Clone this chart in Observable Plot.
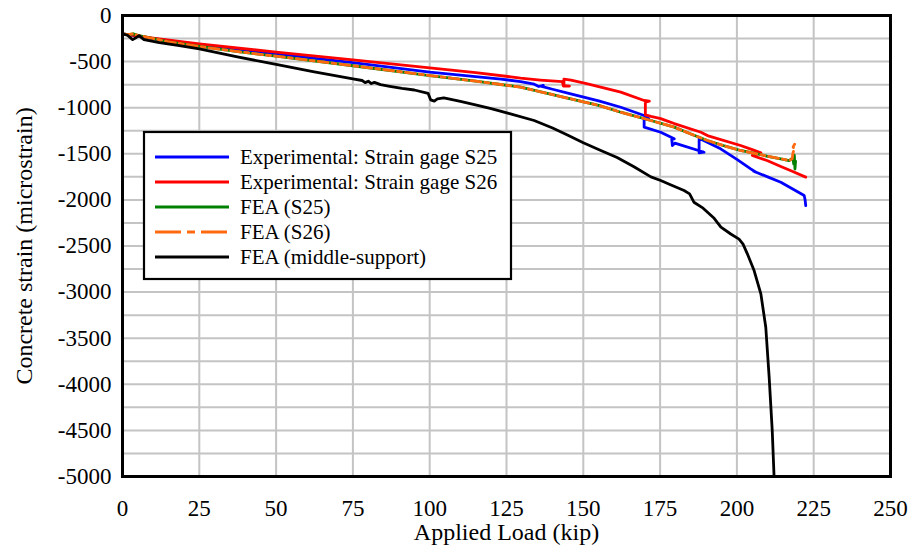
<!DOCTYPE html>
<html><head><meta charset="utf-8">
<script src="https://cdn.jsdelivr.net/npm/d3@7"></script>
<script src="https://cdn.jsdelivr.net/npm/@observablehq/plot@0.6"></script>
<style>body{margin:0;background:#fff;} svg{display:block} svg text{font-family:"Liberation Serif","Times New Roman",serif !important;}</style>
</head><body><div id="chart"></div>
<script>
// Applied load (kip), concrete strain (microstrain)
const expS25 = [[0,-200],[10,-250],[25,-315],[50,-416],[75,-512],[100,-615],[123.2,-690],[129.6,-716],[134,-745],[135.5,-770],[137,-758],[136.1,-767],[140,-800],[145.9,-850],[155,-925],[162.2,-995],[169.8,-1085],[171.3,-1120],[169.8,-1125],[169.8,-1211],[175.2,-1266],[179.6,-1338],[178.8,-1345],[179,-1410],[179.8,-1385],[189.3,-1483],[187.7,-1490],[187.7,-1340],[188.5,-1345],[194.7,-1446],[200,-1560],[204.5,-1663],[206.2,-1700],[205.5,-1690],[210,-1750],[214.3,-1808],[221.9,-1952],[222.2,-2000],[222.4,-2061]];
const expS26 = [[0,-200],[10,-245],[25,-307],[50,-398],[75,-482],[100,-567],[115,-620],[126.4,-665],[129.6,-680],[136,-700],[143.2,-718],[143.5,-765],[145.5,-765],[143.7,-760],[143.7,-690],[146,-700],[151.4,-741],[162.2,-831],[169.8,-922],[171.5,-930],[170.2,-940],[170.2,-1078],[172,-1095],[175.2,-1118],[177.4,-1145],[179.6,-1172],[188.3,-1266],[190.4,-1302],[201.2,-1410],[205,-1455],[207.8,-1490],[205,-1518],[210,-1575],[214.3,-1638],[218,-1690],[222.4,-1753]];
const feaS25 = [[0,-200],[2,-208],[3.5,-198],[5,-215],[7,-228],[15,-285],[25,-336],[37,-390],[50,-441],[75,-545],[100,-651],[115,-712],[129.6,-777],[145.9,-904],[155,-975],[162.2,-1049],[172,-1139],[179.6,-1211],[185,-1285],[190.4,-1356],[196,-1415],[201.2,-1464],[206.6,-1500],[210,-1527],[214.3,-1555],[217,-1573],[218.2,-1545],[218.5,-1610],[218.7,-1515],[218.9,-1665],[219.1,-1580]];
const feaS26 = [[0,-200],[2,-208],[3.5,-198],[5,-215],[7,-228],[15,-285],[25,-336],[37,-390],[50,-441],[75,-545],[100,-651],[115,-712],[129.6,-777],[145.9,-904],[155,-975],[162.2,-1049],[172,-1139],[179.6,-1211],[185,-1285],[190.4,-1356],[196,-1415],[201.2,-1464],[206.6,-1500],[210,-1527],[214.3,-1555],[217,-1573],[218,-1555],[218.2,-1500],[218.6,-1450],[218.3,-1425],[218.8,-1395]];
const feaMid = [[0,-200],[1.5,-212],[3.3,-262],[4.5,-238],[5.4,-218],[7,-262],[12,-295],[18,-325],[25,-362],[37,-445],[50,-531],[62,-610],[75,-687],[78,-705],[79,-728],[80,-712],[81,-738],[82,-725],[84,-750],[87,-768],[91,-790],[95,-808],[99.5,-845],[100.3,-915],[101.5,-928],[102.5,-905],[104.6,-893],[110,-932],[115.6,-976],[120,-1010],[126,-1065],[134,-1139],[140,-1220],[145,-1300],[150,-1380],[155.7,-1464],[161,-1540],[166.5,-1640],[172,-1750],[175.2,-1790],[178,-1830],[182.8,-1898],[184.6,-1935],[186,-2025],[189,-2090],[192.6,-2200],[194.8,-2296],[198,-2370],[200.7,-2425],[202,-2480],[203.4,-2585],[205.6,-2766],[207.8,-3019],[209.4,-3381],[210.5,-3923],[211.5,-4500],[212.1,-5000]];

const seriesNames = ["Experimental: Strain gage S25","Experimental: Strain gage S26","FEA (S25)","FEA (S26)","FEA (middle-support)"];
const seriesColors = ["#0000ff","#ff0000","#008000","#ff6a10","#000000"];
const seriesDash = [null,null,null,"10,4,4,4",null];
const seriesData = [expS25, expS26, feaS25, feaS26, feaMid];

const xTicks = [0,25,50,75,100,125,150,175,200,225,250];
const yTicks = [0,-500,-1000,-1500,-2000,-2500,-3000,-3500,-4000,-4500,-5000];
const yGrid = [0,-250,-500,-750,-1000,-1250,-1500,-1750,-2000,-2250,-2500,-2750,-3000,-3250,-3500,-3750,-4000,-4250,-4500,-4750,-5000];
const xTitle = "Applied Load (kip)";
const yTitle = "Concrete strain (microstrain)";

const FONT = "Liberation Serif, Times New Roman, serif";
const toRows = arr => arr.map(([x, y]) => ({x, y}));

const lineMarks = seriesData.map((d, i) => Plot.line(toRows(d), {
  x: "x", y: "y", stroke: seriesColors[i], strokeWidth: 2.8,
  strokeDasharray: seriesDash[i] || undefined, clip: true
}));

const chart = Plot.plot({
  width: 913, height: 554,
  marginLeft: 122, marginRight: 23, marginTop: 15, marginBottom: 78,
  style: {fontFamily: FONT, fontSize: "23px", color: "black", background: "white"},
  x: {domain: [0, 250]},
  y: {domain: [-5000, 0]},
  marks: [
    Plot.gridX(xTicks, {stroke: "#c4c4c4", strokeOpacity: 1, strokeWidth: 2}),
    Plot.gridY(yGrid, {stroke: "#c4c4c4", strokeOpacity: 1, strokeWidth: 2}),
    Plot.axisX(xTicks, {tickSize: 0, tickPadding: 23, label: null, tickFormat: d => String(d), fontSize: 23, fontFamily: FONT, fontVariant: "normal"}),
    Plot.axisY(yTicks, {tickSize: 0, tickPadding: 11, label: null, tickFormat: d => String(d), fontSize: 23, fontFamily: FONT, fontVariant: "normal"}),
    ...lineMarks,
    Plot.frame({stroke: "black", strokeWidth: 3}),
    Plot.text([xTitle], {text: d => d, frameAnchor: "bottom", lineAnchor: "middle", textAnchor: "middle", dy: 56, fontSize: 24, fontFamily: FONT}),
    Plot.text([yTitle], {text: d => d, frameAnchor: "left", lineAnchor: "middle", textAnchor: "middle", rotate: -90, dx: -98, fontSize: 24, fontFamily: FONT})
  ]
});
document.getElementById("chart").appendChild(chart);

// Legend box inside the plot area
const svg = d3.select(chart);
const lg = svg.append("g").attr("font-family", FONT).attr("font-size", 21).attr("text-anchor", "start");
lg.append("rect").attr("x", 144).attr("y", 132).attr("width", 367).attr("height", 147)
  .attr("fill", "white").attr("stroke", "black").attr("stroke-width", 2.2);
seriesNames.forEach((name, i) => {
  const yy = 157 + i * 25;
  lg.append("line").attr("x1", 155).attr("x2", 229).attr("y1", yy).attr("y2", yy)
    .attr("stroke", seriesColors[i]).attr("stroke-width", 2.8)
    .attr("stroke-dasharray", i === 3 ? "26,6,8,6" : null);
  lg.append("text").attr("x", 240).attr("y", yy + 7).attr("text-anchor", "start").attr("fill", "black").text(name);
});
</script>
</body></html>
